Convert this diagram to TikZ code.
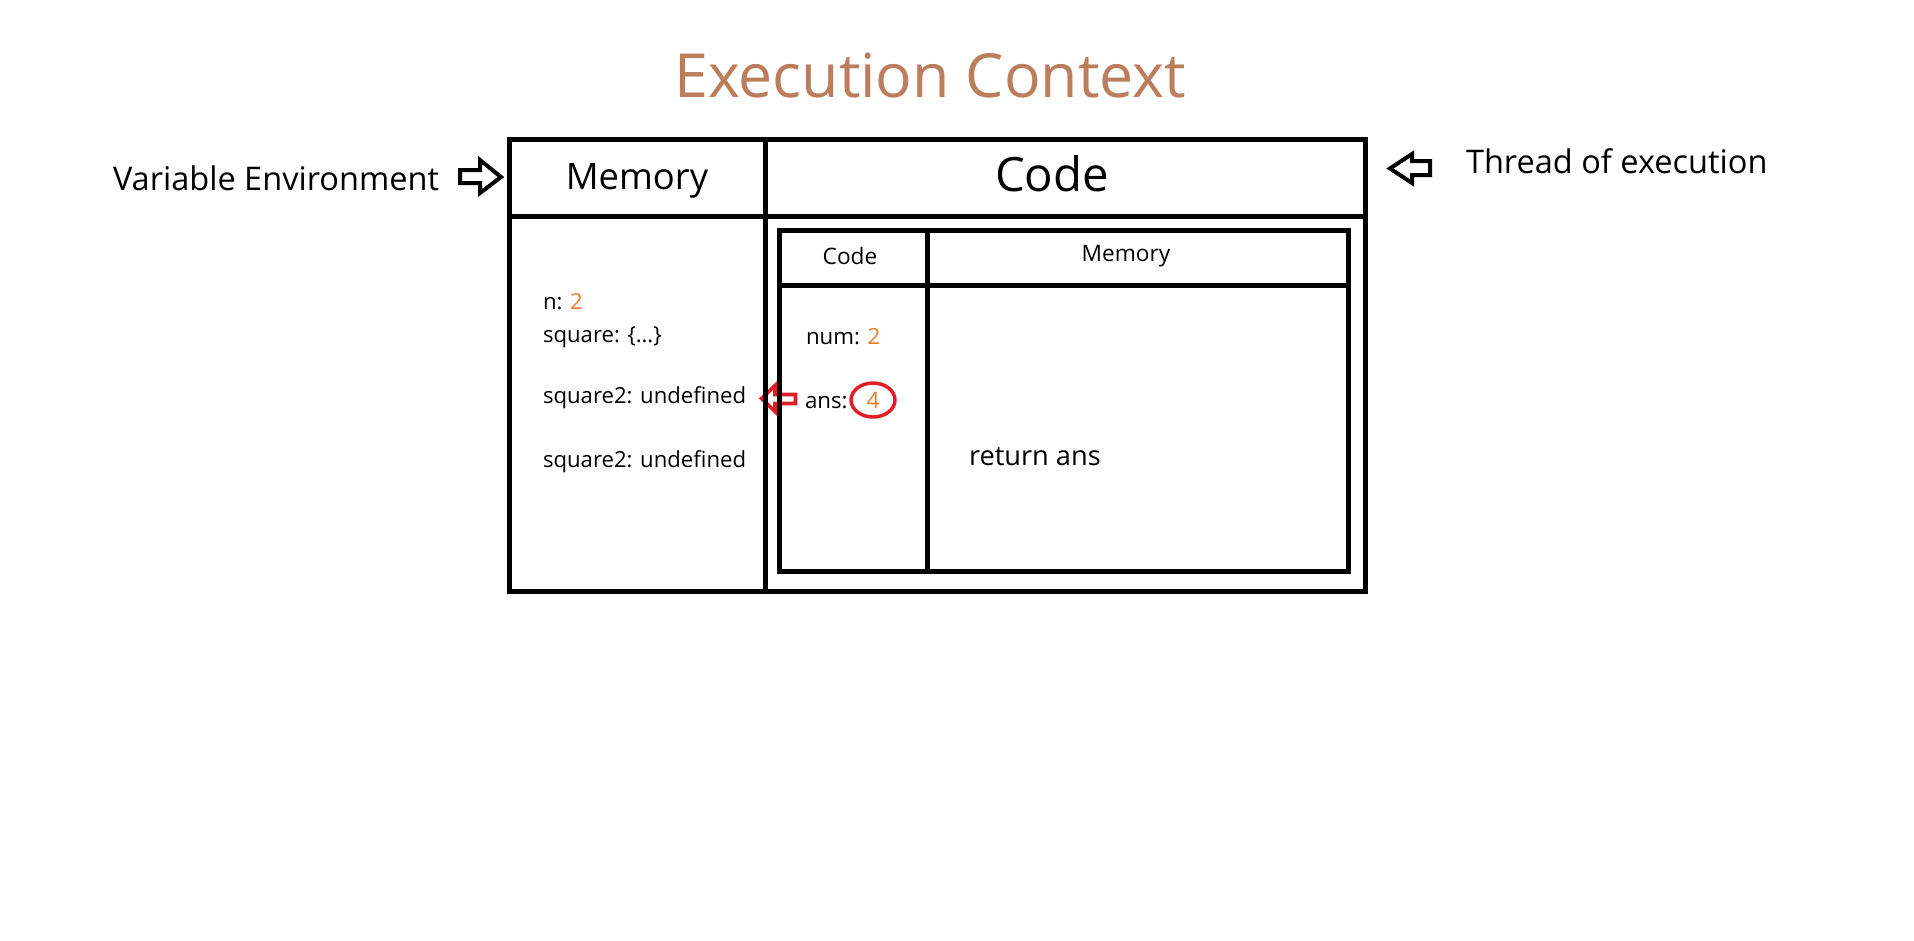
\documentclass[tikz,border=0pt]{standalone}
\usepackage{fontspec}
\setmainfont{Open Sans}
\definecolor{titlec}{RGB}{188,125,92}
\definecolor{numc}{RGB}{237,125,49}
\definecolor{redc}{RGB}{225,30,40}
\newcommand{\fsz}[1]{\fontsize{#1}{#1}\selectfont}
\begin{document}
\begin{tikzpicture}[x=0.75pt,y=-0.75pt,
  box/.style={draw=black, line width=3.75pt, inner sep=0pt, outer sep=0pt},
  rule/.style={draw=black, line width=3.75pt},
  lbl/.style={inner sep=0pt, outer sep=0pt, text=black},
  ptr/.style={draw=black, line width=3pt, fill=white, line join=miter},
  redptr/.style={draw=redc, line width=2.7pt, line join=miter},
  num/.style={text=numc},
]
\useasboundingbox (0,0) rectangle (1914,940);
\fill[white] (0,0) rectangle (1914,940);

% title
\node[lbl, text=titlec, anchor=base, font=\fsz{45.6pt}] (title) at (930,97) {Execution Context};

% red pointer (behind the lines)
\draw[redptr] (761.5,398.5) -- (775,385.5) -- (775,394.5) -- (795.5,394.5) -- (795.5,403.5) -- (775,403.5) -- (775,411.5) -- cycle;

% outer box
\node[box, anchor=north west, minimum width=642pt, minimum height=339pt] (outer) at (509,139) {};
\coordinate (hdr) at (0,216);
\coordinate (div) at (765,0);
\draw[rule] (outer.west |- hdr) -- (outer.east |- hdr);
\draw[rule] (outer.north -| div) -- (outer.south -| div);

% inner box
\node[box, anchor=north west, minimum width=427pt, minimum height=255.75pt] (inner) at (779,230) {};
\coordinate (ihdr) at (0,285);
\coordinate (idiv) at (927,0);
\draw[rule] (inner.west |- ihdr) -- (inner.east |- ihdr);
\draw[rule] (inner.north -| idiv) -- (inner.south -| idiv);

% headers
\node[lbl, anchor=base, font=\fsz{27.3pt}] (memhdr) at (637,189) {Memory};
\node[lbl, anchor=base, font=\fsz{35.5pt}] (codehdr) at (1052,191) {Code};
\node[lbl, anchor=base, font=\fsz{17pt}] (icode) at (850,264) {Code};
\node[lbl, anchor=base, font=\fsz{17pt}] (imem) at (1126,261) {Memory};

% side labels
\node[lbl, anchor=base west, font=\fsz{24.4pt}] (varenv) at (113,190) {Variable Environment};
\node[lbl, anchor=base west, font=\fsz{24.4pt}] (thread) at (1466,173) {Thread of execution};

% pointers
\draw[ptr] (501,177) -- (480,160) -- (480,170) -- (460,170) -- (460,183) -- (480,183) -- (480,193) -- cycle;
\draw[ptr] (1390,168.5) -- (1412,154) -- (1412,161) -- (1430,161) -- (1430,175) -- (1412,175) -- (1412,183) -- cycle;

% memory column
\node[lbl, anchor=base west, font=\fsz{16.6pt}] (n) at (543,309) {n: \textcolor{numc}{2}};
\node[lbl, anchor=base west, font=\fsz{16.6pt}] (sq) at (543,342) {square: \{…\}};
\node[lbl, anchor=base west, font=\fsz{16.6pt}] (sq2a) at (543,403) {square2: undefined};
\node[lbl, anchor=base west, font=\fsz{16.6pt}] (sq2b) at (543,467) {square2: undefined};

% inner code column
\node[lbl, anchor=base west, font=\fsz{16.7pt}] (numv) at (806,344) {num: \textcolor{numc}{2}};
\node[lbl, anchor=base west, font=\fsz{16.7pt}] (ans) at (805,408) {ans:};
\node[lbl, text=numc, font=\fsz{17pt}] (four) at (873,400) {4};
\draw[redc, line width=2.6pt] (four.center) ellipse [x radius=22, y radius=17];

\node[lbl, anchor=base west, font=\fsz{20.4pt}] (ret) at (969,465) {return ans};
\end{tikzpicture}
\end{document}
